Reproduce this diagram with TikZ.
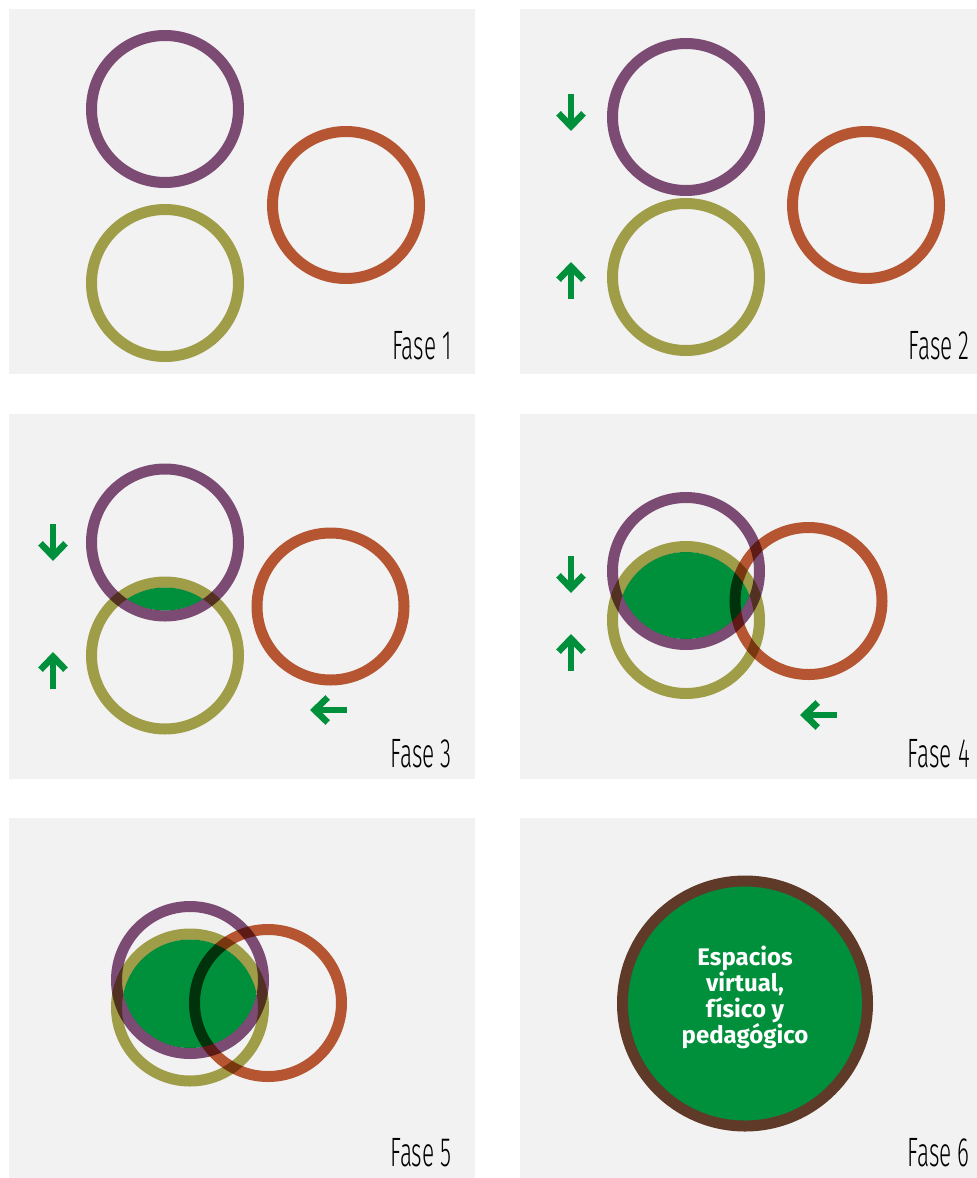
\documentclass[tikz,border=0pt]{standalone}
\usepackage{fontspec}
\setmainfont{Fira Sans}
\newfontfamily\fasefont[UprightFont={* Light}, FakeStretch=0.55]{Fira Sans}
\usepackage{tikz}
\usetikzlibrary{arrows.meta}
\definecolor{morado}{RGB}{131,80,122}
\definecolor{naranja}{RGB}{192,90,53}
\definecolor{oliva}{RGB}{169,166,76}
\definecolor{verde}{RGB}{0,144,60}
\definecolor{cafe}{RGB}{95,58,40}
\definecolor{fondo}{RGB}{242,242,242}

\begin{document}
\begin{tikzpicture}[x=1pt,y=-1pt,
    anillo/.style={line width=11pt, blend mode=multiply},
    flecha/.style={draw=verde, line width=6pt, -{Straight Barb[length=13pt,width=25pt,line width=6.5pt]}},
    fase/.style={anchor=base east, inner sep=0pt, font=\fasefont\fontsize{41}{41}\selectfont}]
    \useasboundingbox (0,0) rectangle (977,1178);
    % paneles
    \foreach \x/\y/\xx/\yy in {9/9/475/374, 520/9/977/374, 9/414/475/779, 520/414/977/779, 9/818/475/1178, 520/818/977/1178} {
        \fill[fondo] (\x,\y) rectangle (\xx,\yy);
    }
    % Fase 1
    \draw[anillo, morado] (165,109) circle[radius=73.5pt];
    \draw[anillo, oliva] (165,283) circle[radius=73.5pt];
    \draw[anillo, naranja] (346,205) circle[radius=73.5pt];
    % Fase 2
    \draw[anillo, morado] (686,117) circle[radius=73.5pt];
    \draw[anillo, oliva] (686,277) circle[radius=73.5pt];
    \draw[anillo, naranja] (866,205) circle[radius=73.5pt];
    \draw[flecha] (571,94) -- (571,131);
    \draw[flecha] (571,299) -- (571,262);
    % Fase 3
    \begin{scope}
        \clip (165,542.5) circle[radius=68pt];
        \fill[verde] (165,655.5) circle[radius=68pt];
    \end{scope}
    \draw[anillo, morado] (165,542.5) circle[radius=73.5pt];
    \draw[anillo, oliva] (165,655.5) circle[radius=73.5pt];
    \draw[anillo, naranja] (330.5,606.5) circle[radius=73.5pt];
    \draw[flecha] (53,524) -- (53,561);
    \draw[flecha] (53,689) -- (53,652);
    \draw[flecha] (347,710) -- (310,710);
    % Fase 4
    \begin{scope}
        \clip (686,571) circle[radius=68pt];
        \fill[verde] (686,620) circle[radius=68pt];
    \end{scope}
    \draw[anillo, morado] (686,571) circle[radius=73.5pt];
    \draw[anillo, oliva] (686,620) circle[radius=73.5pt];
    \draw[anillo, naranja] (808.5,601) circle[radius=73.5pt];
    \draw[flecha] (571,556) -- (571,593);
    \draw[flecha] (571,671) -- (571,634);
    \draw[flecha] (837,715) -- (800,715);
    % Fase 5
    \begin{scope}
        \clip (190,980) circle[radius=68pt];
        \fill[verde] (190,1007.5) circle[radius=68pt];
    \end{scope}
    \draw[anillo, morado] (190,980) circle[radius=73.5pt];
    \draw[anillo, oliva] (190,1007.5) circle[radius=73.5pt];
    \draw[anillo, naranja] (268,1003) circle[radius=73.5pt];
    % Fase 6
    \fill[verde] (745,1003.5) circle[radius=122.5pt];
    \draw[cafe, line width=11pt] (745,1003.5) circle[radius=122.5pt];
    \node[text=white, align=center, font=\bfseries\fontsize{24}{26}\selectfont] (espacios) at (745,997)
        {Espacios\\virtual,\\físico y\\pedagógico};
    % etiquetas
    \foreach \n/\x/\y in {1/452/359, 2/970/359, 3/452/767, 4/970/767, 5/452/1166, 6/970/1166} {
        \node[fase] (fase\n) at (\x,\y) {Fase \n};
    }
\end{tikzpicture}
\end{document}
